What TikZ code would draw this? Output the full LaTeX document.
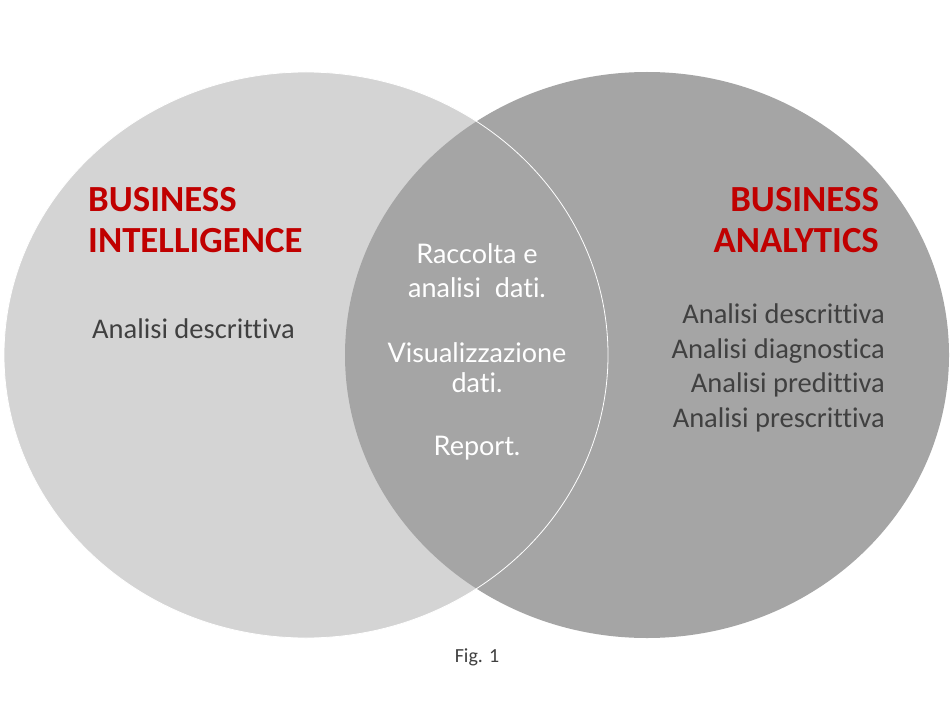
\documentclass[tikz,border=0pt]{standalone}
\usepackage{fontspec}
\setmainfont[RawFeature={-liga;-clig;-calt;-dlig}]{Carlito}
\newfontfamily\midfont[RawFeature={-liga;-clig;-calt;-dlig}]{Lato}
\usetikzlibrary{shapes.geometric}
\definecolor{bilight}{HTML}{D4D4D4}
\definecolor{badark}{HTML}{A5A5A5}
\definecolor{titlered}{HTML}{C00000}
\definecolor{textgray}{HTML}{404040}
\tikzset{
  venn/.style={ellipse, inner sep=0pt, minimum width=604pt, minimum height=566pt},
  title/.style={font=\fontsize{36.8}{42}\selectfont\bfseries, text=titlered, inner sep=0pt},
  item/.style={font=\fontsize{28.5}{34}\selectfont, text=textgray, inner sep=0pt},
  mid/.style={font=\midfont\fontsize{27}{32}\selectfont, text=white, inner sep=0pt, anchor=base},
  caption/.style={font=\fontsize{20}{24}\selectfont, text=textgray, inner sep=0pt, anchor=base}
}
\begin{document}
\begin{tikzpicture}[x=1pt,y=-1pt]
\useasboundingbox (0,0) rectangle (952,714);
\fill[white] (0,0) rectangle (952,714);
\node[venn, fill=bilight] (bi) at (306,355) {};
\node[venn, fill=badark] (ba) at (647,355) {};
\node[venn, draw=white, line width=0.8pt] (bio) at (306,355) {};
% left
\node[title, anchor=base west] (bi1) at (88,211) {BUSINESS};
\node[title, anchor=base west] (bi2) at (88,252) {INTELLIGENCE};
\node[item, anchor=base west] (bia) at (92,338) {Analisi descrittiva};
% right
\node[title, anchor=base east] (ba1) at (879,211) {BUSINESS};
\node[title, anchor=base east] (ba2) at (879,252) {ANALYTICS};
\node[item, anchor=base east] (baa) at (885,323) {Analisi descrittiva};
\node[item, anchor=base east] (bab) at (885,358) {Analisi diagnostica};
\node[item, anchor=base east] (bac) at (885,392) {Analisi predittiva};
\node[item, anchor=base east] (bad) at (885,427) {Analisi prescrittiva};
% middle
\node[mid] (m1) at (477,263) {Raccolta e};
\node[mid] (m2) at (477,297) {analisi\ \ dati.};
\node[mid] (m3) at (477,362) {Visualizzazione};
\node[mid] (m4) at (477,392) {dati.};
\node[mid] (m5) at (477,455) {Report.};
% caption
\node[caption] (fig) at (477,662) {Fig. 1};
\end{tikzpicture}
\end{document}
